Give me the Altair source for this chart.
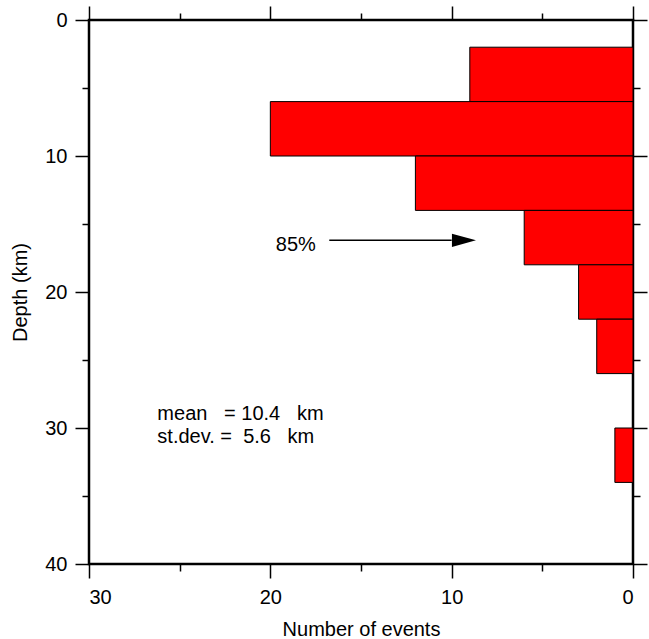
import altair as alt
import pandas as pd

# ---- data ----
depth_top = [2, 6, 10, 14, 18, 22, 30]
depth_bottom = [6, 10, 14, 18, 22, 26, 34]
counts = [9, 20, 12, 6, 3, 2, 1]

x_major = [0, 10, 20, 30]
x_minor = [5, 15, 25]
y_major = [0, 10, 20, 30, 40]
y_minor = [5, 15, 25, 35]

arrow_depth = [16.2]
arrow_start = [16.75]
arrow_base = [10.0]
arrow_tip = [8.66]

pct_label = ["85%"]
pct_x = [19.7]
pct_depth = [16.95]

stat_lines = ["mean\u00a0\u00a0\u00a0= 10.4\u00a0\u00a0\u00a0km", "st.dev. =\u00a0\u00a05.6\u00a0\u00a0\u00a0km"]
stat_x = [26.23, 26.23]
stat_depth = [29.41, 31.13]

FONT = "Liberation Sans"
FS = 20

bars_df = pd.DataFrame({"top": depth_top, "bottom": depth_bottom, "count": counts})
arrow_df = pd.DataFrame({"y": arrow_depth, "x1": arrow_start, "x2": arrow_base, "tip": arrow_tip})
pct_df = pd.DataFrame({"label": pct_label, "x": pct_x, "y": pct_depth})
stat_df = pd.DataFrame({"label": stat_lines, "x": stat_x, "y": stat_depth})

xs = alt.Scale(domain=[0, 30], reverse=True, nice=False, zero=False)
ys = alt.Scale(domain=[0, 40], reverse=True, nice=False, zero=False)


def ax(orient, values, size, labels, title=None, lpad=8, tpad=10):
    return alt.Axis(
        orient=orient, values=values, tickSize=size, labels=labels, title=title,
        domain=False, grid=False, ticks=True, tickColor="black", tickWidth=1.5,
        labelFont=FONT, labelFontSize=FS, labelColor="black", labelPadding=lpad,
        titleFont=FONT, titleFontSize=FS, titleFontWeight="normal", titleColor="black",
        titlePadding=tpad,
    )


bars = alt.Chart(bars_df).mark_rect(fill="#ff0000", stroke="black", strokeWidth=1).encode(
    x=alt.X("count:Q", scale=xs,
            axis=ax("bottom", x_major, 14, True, "Number of events", lpad=9, tpad=12)),
    x2=alt.datum(0),
    y=alt.Y("top:Q", scale=ys,
            axis=ax("left", y_major, 14, True, "Depth (km)", lpad=8, tpad=14)),
    y2="bottom:Q",
)


def tick_layer(xorient, xvals, yorient, yvals, size):
    return alt.Chart(bars_df).mark_point(opacity=0).encode(
        x=alt.X("count:Q", scale=xs, axis=ax(xorient, xvals, size, False)),
        y=alt.Y("top:Q", scale=ys, axis=ax(yorient, yvals, size, False)),
    )


minor_bl = tick_layer("bottom", x_minor, "left", y_minor, 7)
major_tr = tick_layer("top", x_major, "right", y_major, 14)
minor_tr = tick_layer("top", x_minor, "right", y_minor, 7)

shaft = alt.Chart(arrow_df).mark_rule(color="black", strokeWidth=1.5).encode(
    x=alt.X("x1:Q", scale=xs, axis=None),
    x2="x2:Q",
    y=alt.Y("y:Q", scale=ys, axis=None),
)
head = alt.Chart(arrow_df).mark_point(
    shape="M0,0L-2,-0.55L-2,0.55Z", size=576, filled=True, fill="black", opacity=1, strokeWidth=0
).encode(
    x=alt.X("tip:Q", scale=xs, axis=None),
    y=alt.Y("y:Q", scale=ys, axis=None),
)

pct = alt.Chart(pct_df).mark_text(
    align="left", baseline="alphabetic", font=FONT, fontSize=FS, color="black"
).encode(
    x=alt.X("x:Q", scale=xs, axis=None),
    y=alt.Y("y:Q", scale=ys, axis=None),
    text="label:N",
)
stats = alt.Chart(stat_df).mark_text(
    align="left", baseline="alphabetic", font=FONT, fontSize=FS, color="black"
).encode(
    x=alt.X("x:Q", scale=xs, axis=None),
    y=alt.Y("y:Q", scale=ys, axis=None),
    text="label:N",
)

chart = (
    alt.layer(bars, minor_bl, major_tr, minor_tr, shaft, head, pct, stats)
    .resolve_axis(x="independent", y="independent")
    .properties(
        width=544,
        height=544,
        autosize=alt.AutoSizeParams(type="none"),
        padding={"left": 89, "top": 20, "right": 16, "bottom": 75},
        background="white",
    )
    .configure_view(stroke="black", strokeWidth=2.5)
)

chart.save("out.html", embed_options={"renderer": "svg", "actions": False})
